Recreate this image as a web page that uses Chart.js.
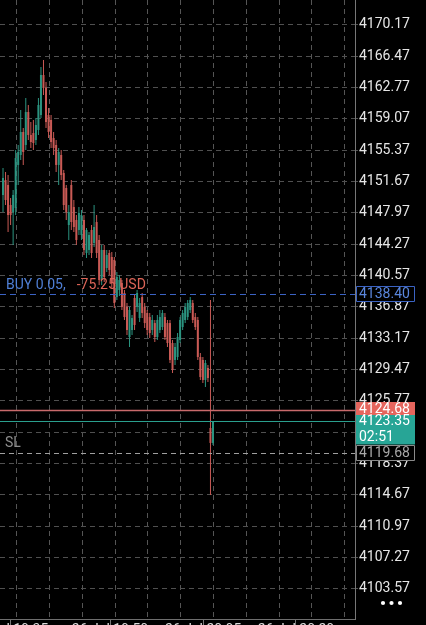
<!DOCTYPE html>
<html><head><meta charset="utf-8">
<script src="https://cdn.jsdelivr.net/npm/chart.js@4/dist/chart.umd.min.js"></script>
<style>html,body{margin:0;padding:0;background:#000;overflow:hidden}canvas{display:block}</style>
</head><body><canvas id="c" width="426" height="625"></canvas>
<script>
// ---- data ----
const yTickLabels = ["4170.17","4166.47","4162.77","4159.07","4155.37","4151.67","4147.97","4144.27","4140.57","4136.87","4133.17","4129.47","4125.77","4122.07","4118.37","4114.67","4110.97","4107.27","4103.57"];
const timeLabels = ["26 Jul 19:35","26 Jul 19:50","26 Jul 20:05","26 Jul 20:20"];
const timeTickIdx = [2.8, 42.3, 79.1, 115.8];
const gridIdx = [5.4, 18.4, 31.3, 44.3, 57.2, 70.2, 83.2, 96.1, 109.1, 122.0, 135.0];

const openP = [4150.09,4151.86,4151.27,4148.91,4148.08,4148.56,4153.64,4154.82,4157.53,4156.00,
4159.89,4157.18,4157.41,4156.59,4157.77,4159.54,4164.26,4162.73,4159.54,4158.95,
4156.82,4156.00,4153.64,4154.82,4152.69,4150.92,4146.55,4151.27,4148.67,4147.14,
4145.96,4145.37,4147.14,4143.24,4143.60,4145.96,4144.42,4146.90,4144.78,4140.05,
4143.60,4141.47,4143.24,4142.77,4142.42,4138.04,4138.87,4139.70,4138.52,4136.87,
4133.32,4134.15,4137.93,4136.87,4135.56,4138.04,4136.87,4136.16,4135.68,4134.15,
4134.97,4133.32,4134.15,4134.50,4135.68,4134.97,4134.97,4132.61,4130.61,4130.96,
4132.97,4134.50,4135.33,4135.68,4136.51,4137.34,4135.68,4135.33,4130.96,4130.61,
4128.25,4129.66,4122.58,4120.81];
const closeP = [4152.10,4149.50,4147.73,4147.73,4150.09,4154.46,4155.17,4157.53,4155.17,4159.89,
4157.18,4156.35,4156.23,4158.36,4160.72,4164.26,4162.73,4158.71,4157.53,4156.35,
4155.64,4153.64,4155.17,4152.45,4148.91,4148.08,4148.08,4146.90,4146.31,4144.78,
4147.97,4147.73,4143.60,4145.96,4145.37,4143.24,4146.31,4143.24,4140.05,4143.60,
4140.41,4143.01,4141.24,4139.70,4137.34,4140.41,4140.05,4136.87,4135.68,4134.15,
4136.51,4135.56,4134.74,4138.52,4137.34,4136.16,4134.97,4134.15,4133.79,4135.33,
4133.32,4135.33,4135.68,4136.16,4133.32,4132.61,4130.61,4129.43,4132.14,4133.32,
4135.33,4136.16,4136.87,4137.34,4137.69,4135.33,4134.50,4130.96,4128.60,4128.25,
4130.25,4128.48,4120.81,4123.35];
const highP = [4153.28,4152.81,4152.45,4149.74,4150.68,4155.41,4156.00,4160.13,4158.00,4161.55,
4160.72,4158.71,4158.95,4159.19,4161.55,4165.21,4166.03,4163.44,4160.37,4159.54,
4157.53,4156.59,4155.64,4155.41,4153.05,4151.27,4148.91,4151.86,4149.50,4147.73,
4148.67,4148.32,4147.73,4146.19,4145.72,4146.55,4148.91,4147.73,4145.37,4144.19,
4144.19,4143.60,4143.60,4143.36,4142.77,4141.00,4140.64,4140.05,4138.87,4137.34,
4136.87,4135.92,4138.28,4138.87,4137.93,4138.52,4137.34,4136.51,4136.16,4135.92,
4135.33,4135.92,4136.51,4136.51,4136.16,4135.33,4135.33,4132.97,4132.61,4133.79,
4135.68,4136.51,4137.34,4137.69,4138.04,4137.69,4136.16,4135.68,4131.43,4130.96,
4130.61,4130.02,4137.69,4123.35];
const lowP = [4148.08,4148.91,4145.72,4146.55,4144.19,4147.73,4151.27,4154.23,4153.64,4155.41,
4156.59,4155.64,4155.41,4156.00,4157.18,4159.19,4161.90,4158.00,4156.82,4155.64,
4154.82,4152.81,4151.27,4151.86,4148.32,4147.14,4144.78,4145.96,4145.72,4144.19,
4145.37,4144.78,4143.01,4142.65,4143.01,4142.65,4143.95,4142.65,4139.46,4139.46,
4139.82,4141.00,4140.64,4139.11,4136.75,4137.69,4138.16,4136.51,4135.33,4133.56,
4132.14,4133.56,4134.15,4136.27,4135.09,4135.56,4134.38,4133.56,4133.20,4133.56,
4132.73,4132.97,4133.79,4134.15,4132.97,4132.14,4130.25,4129.07,4130.02,4130.61,
4132.61,4134.15,4134.97,4135.33,4136.16,4134.97,4134.15,4130.61,4128.25,4127.89,
4127.42,4128.01,4114.66,4120.57];

const positionSide = "BUY", positionVolume = "0.05", positionProfit = "-75.25", currency = "USD";
const entryPrice = 4138.40, askPrice = 4124.68, bidPrice = 4123.35, stopLoss = 4119.68, countdown = "02:51";

// ---- chart ----
const UP = '#2b9480', DN = '#c95a55';
const colors = closeP.map((c,i)=> c >= openP[i] ? UP : DN);
const bodies = closeP.map((c,i)=>({x:i, y:[openP[i], c]}));
const wicks = closeP.map((c,i)=>({x:i, y:[lowP[i], highP[i]]}));
const yTicks = yTickLabels.map(Number);
const xMin = -1.19, xMax = 139.13;
const yMin = 4100.02, yMax = 4173.12;
const FONT = 'Roboto';

function tag(ctx, x, y, w, h, fill, stroke) {
  ctx.beginPath(); ctx.rect(x, y, w, h);
  if (fill) { ctx.fillStyle = fill; ctx.fill(); }
  if (stroke) { ctx.strokeStyle = stroke; ctx.lineWidth = 1; ctx.stroke(); }
}

const overlay = {
  id: 'overlay',
  afterDatasetsDraw(chart) {
    const {ctx, chartArea: a, scales: {y}} = chart;
    ctx.save();
    ctx.beginPath(); ctx.rect(a.left, a.top, a.right - a.left, a.bottom - a.top); ctx.clip();
    const hline = (v, color, dash, w) => {
      const py = Math.round(y.getPixelForValue(v)) + 0.5;
      ctx.strokeStyle = color; ctx.lineWidth = w; ctx.setLineDash(dash);
      ctx.beginPath(); ctx.moveTo(a.left, py); ctx.lineTo(a.right, py); ctx.stroke();
    };
    hline(entryPrice, '#3b63c4', [6, 4], 1.2);
    hline(askPrice, '#c96a6b', [], 1.6);
    hline(bidPrice, '#2a9f8e', [], 1.2);
    hline(stopLoss, '#a0a0a0', [5, 4], 1.2);
    ctx.setLineDash([]);
    ctx.font = '14px ' + FONT; ctx.textBaseline = 'middle'; ctx.textAlign = 'left';
    const ey = y.getPixelForValue(entryPrice) - 9;
    const t1 = positionSide + ' ' + positionVolume + ',';
    ctx.fillStyle = '#4f7fd6'; ctx.fillText(t1, 6, ey);
    const w1 = ctx.measureText(t1).width;
    ctx.fillStyle = '#dd6558'; ctx.fillText(positionProfit + ' ' + currency, 6 + w1 + 11, ey);
    ctx.fillStyle = '#8e8e8e'; ctx.fillText('SL', 5, y.getPixelForValue(stopLoss) - 9);
    ctx.restore();
  },
  afterDraw(chart) {
    const {ctx, chartArea: a, scales: {y}} = chart;
    ctx.save();
    ctx.font = '14px ' + FONT; ctx.textBaseline = 'middle'; ctx.textAlign = 'left';
    const x0 = a.right + 1.5, tw = 58, tx = a.right + 4;
    let py = y.getPixelForValue(entryPrice);
    tag(ctx, x0, Math.round(py) - 7.5, tw, 15, '#000', '#3b63c4');
    ctx.fillStyle = '#5a86dc'; ctx.fillText(entryPrice.toFixed(2), tx, py + 0.5);
    py = y.getPixelForValue(askPrice);
    tag(ctx, x0 - 0.5, Math.round(py) - 8, tw + 1, 14, '#e5655d', null);
    ctx.fillStyle = '#ffffff'; ctx.fillText(askPrice.toFixed(2), tx, py - 1);
    py = y.getPixelForValue(bidPrice);
    tag(ctx, x0 - 0.5, Math.round(py) - 6, tw + 1, 29.5, '#27a596', null);
    ctx.fillStyle = '#ffffff'; ctx.fillText(bidPrice.toFixed(2), tx, py);
    ctx.fillText(countdown, tx, py + 16);
    py = y.getPixelForValue(stopLoss);
    tag(ctx, x0, Math.round(py) - 7.5, tw, 15, '#000', '#8a8a8a');
    ctx.fillStyle = '#a8a8a8'; ctx.fillText(stopLoss.toFixed(2), tx, py + 0.5);
    ctx.fillStyle = '#ffffff';
    [383, 391.5, 400].forEach(dx => { ctx.beginPath(); ctx.arc(dx, 603, 2.1, 0, Math.PI * 2); ctx.fill(); });
    ctx.restore();
  }
};

new Chart(document.getElementById('c'), {
  type: 'bar',
  data: {
    datasets: [
      {data: bodies, backgroundColor: colors, barThickness: 2, grouped: false, borderWidth: 0, inflateAmount: 0, xAxisID: 'x', yAxisID: 'y'},
      {data: wicks, backgroundColor: colors, barThickness: 1, grouped: false, borderWidth: 0, inflateAmount: 0, xAxisID: 'x', yAxisID: 'y'}
    ]
  },
  options: {
    responsive: false, animation: false, devicePixelRatio: 1, events: [],
    layout: {padding: 0},
    plugins: {legend: {display: false}, tooltip: {enabled: false}, title: {display: false}},
    scales: {
      x: {
        type: 'linear', position: 'bottom', min: xMin, max: xMax, offset: false,
        afterBuildTicks: s => { s.ticks = gridIdx.map(v => ({value: v})); },
        afterFit: s => { s.height = 0; s.paddingLeft = 0; s.paddingRight = 0; },
        grid: {color: '#555555', drawTicks: false, lineWidth: 1, offset: false},
        border: {display: false, dash: [5, 4]},
        ticks: {display: false}
      },
      xt: {
        type: 'linear', position: 'bottom', min: xMin, max: xMax, offset: false,
        afterBuildTicks: s => { s.ticks = timeTickIdx.map(v => ({value: v})); },
        afterFit: s => { s.height = 6; s.paddingLeft = 0; s.paddingRight = 0; },
        grid: {drawOnChartArea: false, color: '#777', tickLength: 6, offset: false},
        border: {display: true, color: '#6e6e6e', width: 1},
        ticks: {color: '#dcdcdc', font: {family: FONT, size: 14}, padding: -3, maxRotation: 0, minRotation: 0, autoSkip: false,
          callback: (v, i) => timeLabels[i]}
      },
      y: {
        type: 'linear', position: 'right', min: yMin, max: yMax,
        afterBuildTicks: s => { s.ticks = yTicks.map(v => ({value: v})); },
        afterFit: s => { s.width = 71; s.paddingTop = 0; s.paddingBottom = 0; },
        grid: {color: '#505050', tickLength: 3, lineWidth: 1},
        border: {display: true, color: '#777', width: 1, dash: [5, 4]},
        ticks: {color: '#e6e6e6', font: {family: FONT, size: 14}, padding: 1, autoSkip: false,
          callback: (v, i) => yTickLabels[i]}
      }
    }
  },
  plugins: [overlay]
});
</script>
</body></html>
